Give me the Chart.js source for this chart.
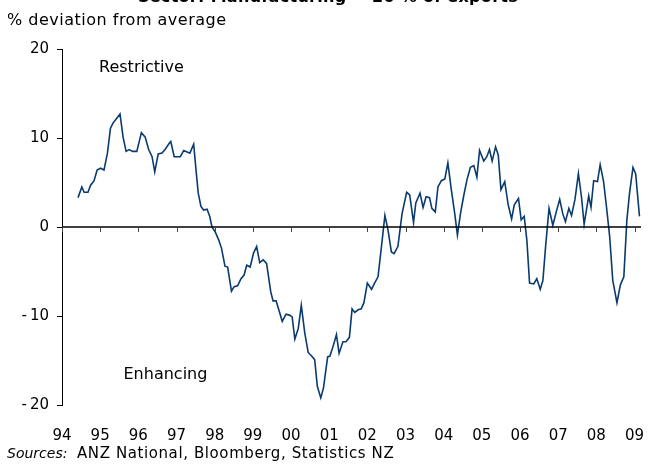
<!DOCTYPE html>
<html>
<head>
<meta charset="utf-8">
<script src="https://cdn.jsdelivr.net/npm/chart.js@4"></script>
<style>
  body { margin: 0; background: #fff; font-family: 'DejaVu Sans', sans-serif; }
  #wrap { position: relative; width: 648px; height: 465px; overflow: hidden; }
  canvas { position: absolute; left: 0; top: 0; }
  .txt { position: absolute; white-space: nowrap; color: #000; font-size: 16px; }
</style>
</head>
<body>
<div id="wrap">
  <canvas id="chart" width="648" height="465"></canvas>
  <div class="txt" style="left:0;width:656px;text-align:center;top:-13px;font-weight:bold;letter-spacing:0.3px;">Sector: Manufacturing ≈ 20 % of exports</div>
  <div class="txt" style="left:7px;top:10px;letter-spacing:0.5px;">% deviation from average</div>
  <div class="txt" style="left:7px;top:444px;font-size:15px;"><i style="font-size:14px;">Sources:</i>&nbsp;&nbsp;<span style="letter-spacing:0.6px;">ANZ National, Bloomberg, Statistics NZ</span></div>
</div>
<script>
// Dates (decimal years) and % deviation from average
const dates = [
  1994.42, 1994.52, 1994.58, 1994.68, 1994.75, 1994.84, 1994.92, 1995.01, 1995.10, 1995.19,
  1995.27, 1995.34, 1995.43, 1995.52, 1995.60, 1995.68, 1995.76, 1995.85, 1995.96, 1996.08,
  1996.18, 1996.27, 1996.36, 1996.43, 1996.52, 1996.62, 1996.70, 1996.81, 1996.85, 1996.94,
  1997.10, 1997.19, 1997.35, 1997.45, 1997.52, 1997.57, 1997.64, 1997.71, 1997.80, 1997.87,
  1997.93, 1998.02, 1998.11, 1998.18, 1998.27, 1998.34, 1998.44, 1998.51, 1998.60, 1998.69,
  1998.77, 1998.84, 1998.93, 1999.02, 1999.10, 1999.18, 1999.27, 1999.36, 1999.47, 1999.53,
  1999.61, 1999.68, 1999.77, 1999.87, 1999.96, 2000.03, 2000.10, 2000.19, 2000.27, 2000.36,
  2000.45, 2000.54, 2000.62, 2000.69, 2000.78, 2000.85, 2000.96, 2001.02, 2001.11, 2001.19,
  2001.26, 2001.36, 2001.44, 2001.53, 2001.60, 2001.67, 2001.76, 2001.84, 2001.91, 2002.00,
  2002.11, 2002.19, 2002.28, 2002.37, 2002.46, 2002.54, 2002.63, 2002.70, 2002.80, 2002.91,
  2003.03, 2003.11, 2003.21, 2003.27, 2003.38, 2003.46, 2003.54, 2003.63, 2003.69, 2003.78,
  2003.85, 2003.94, 2004.03, 2004.11, 2004.20, 2004.29, 2004.36, 2004.44, 2004.52, 2004.61,
  2004.70, 2004.79, 2004.87, 2004.94, 2005.05, 2005.13, 2005.20, 2005.27, 2005.36, 2005.43,
  2005.50, 2005.60, 2005.69, 2005.78, 2005.85, 2005.96, 2006.03, 2006.11, 2006.18, 2006.25,
  2006.36, 2006.44, 2006.53, 2006.60, 2006.67, 2006.76, 2006.86, 2006.95, 2007.04, 2007.12,
  2007.19, 2007.28, 2007.35, 2007.44, 2007.53, 2007.61, 2007.68, 2007.80, 2007.86, 2007.93,
  2008.03, 2008.10, 2008.19, 2008.27, 2008.35, 2008.43, 2008.54, 2008.63, 2008.72, 2008.80,
  2008.87, 2008.96, 2009.03, 2009.13
];
const deviation = [
  3.3, 4.5, 3.9, 3.9, 4.7, 5.2, 6.4, 6.6, 6.4, 8.3,
  11.1, 11.7, 12.2, 12.7, 10.1, 8.5, 8.7, 8.5, 8.5, 10.6,
  10.1, 8.7, 7.9, 6.2, 8.2, 8.3, 8.7, 9.4, 9.6, 7.9,
  7.9, 8.6, 8.3, 9.3, 6.0, 3.8, 2.3, 1.9, 2.0, 1.2,
  0.0, -0.6, -1.5, -2.4, -4.4, -4.5, -7.2, -6.7, -6.6, -5.8,
  -5.4, -4.3, -4.5, -2.9, -2.2, -4.0, -3.7, -4.1, -7.3, -8.3,
  -8.3, -9.3, -10.6, -9.8, -9.9, -10.1, -12.6, -11.4, -8.8, -11.9,
  -14.1, -14.5, -14.9, -17.9, -19.2, -18.1, -14.6, -14.5, -13.3, -12.1,
  -14.2, -12.9, -12.9, -12.4, -9.2, -9.6, -9.3, -9.2, -8.5, -6.3,
  -7.0, -6.3, -5.6, -2.2, 1.3, -0.3, -2.8, -3.0, -2.2, 1.5,
  3.9, 3.6, 0.5, 2.7, 3.8, 2.2, 3.4, 3.3, 2.1, 1.7,
  4.5, 5.2, 5.4, 7.2, 4.2, 1.5, -0.9, 1.5, 3.4, 5.3,
  6.7, 6.9, 5.6, 8.6, 7.4, 7.9, 8.7, 7.4, 9.0, 8.1,
  4.2, 5.1, 2.5, 0.9, 2.5, 3.2, 0.8, 1.2, -1.5, -6.3,
  -6.4, -5.8, -7.0, -6.0, -2.2, 2.1, 0.2, 1.7, 3.1, 1.5,
  0.6, 2.1, 1.3, 3.1, 6.0, 3.4, 0.3, 3.5, 2.2, 5.2,
  5.1, 7.0, 5.1, 2.1, -1.1, -6.0, -8.5, -6.5, -5.6, 0.8,
  3.8, 6.7, 6.0, 1.2
];
const yearTicks = [1994, 1995, 1996, 1997, 1998, 1999, 2000, 2001, 2002, 2003, 2004, 2005, 2006, 2007, 2008, 2009];
const yTicks = [-20, -10, 0, 10, 20];
const notes = [
  { text: 'Restrictive', x: 1996.08, y: 17.9 },
  { text: 'Enhancing', x: 1996.71, y: -16.6 }
];

const FONT = "'DejaVu Sans', sans-serif";

// zero line with year ticks, plus the two text notes
const extras = {
  id: 'extras',
  afterDatasetsDraw(chart) {
    const { ctx, chartArea, scales: { x, y } } = chart;
    const y0 = y.getPixelForValue(0);
    ctx.save();
    ctx.strokeStyle = '#000';
    ctx.lineWidth = 1.5;
    ctx.beginPath();
    ctx.moveTo(chartArea.left, y0);
    ctx.lineTo(chartArea.right, y0);
    ctx.stroke();
    ctx.lineWidth = 1;
    ctx.strokeStyle = '#444';
    yearTicks.forEach(v => {
      const px = Math.round(x.getPixelForValue(v)) + 0.5;
      ctx.beginPath();
      ctx.moveTo(px, y0);
      ctx.lineTo(px, y0 + 5);
      ctx.stroke();
    });
    ctx.fillStyle = '#000';
    ctx.font = '16px ' + FONT;
    ctx.textAlign = 'center';
    ctx.textBaseline = 'middle';
    notes.forEach(n => ctx.fillText(n.text, x.getPixelForValue(n.x), y.getPixelForValue(n.y)));
    ctx.restore();
  }
};

new Chart(document.getElementById('chart'), {
  type: 'line',
  data: {
    datasets: [{
      data: dates.map((d, i) => ({ x: d, y: deviation[i] })),
      borderColor: '#0a3b70',
      borderWidth: 1.6,
      pointRadius: 0,
      tension: 0,
      fill: false
    }]
  },
  options: {
    responsive: false,
    devicePixelRatio: 1,
    animation: false,
    layout: { padding: { top: 49, right: 7, left: 0, bottom: 0 } },
    plugins: { legend: { display: false }, tooltip: { enabled: false } },
    scales: {
      x: {
        type: 'linear',
        min: 1994,
        max: 2009.17,
        grid: { display: false },
        border: { display: false },
        afterBuildTicks: s => { s.ticks = yearTicks.map(v => ({ value: v })); },
        afterFit: s => { s.height = 60; s.paddingLeft = 0; s.paddingRight = 0; },
        ticks: {
          padding: 14,
          maxRotation: 0,
          autoSkip: false,
          color: '#000',
          font: { family: FONT, size: 15 },
          callback: v => String(v).slice(2)
        }
      },
      y: {
        min: -20,
        max: 20,
        grid: { drawOnChartArea: false, color: '#000', tickLength: 5 },
        border: { color: '#000', width: 1 },
        afterBuildTicks: s => { s.ticks = yTicks.map(v => ({ value: v })); },
        afterFit: s => { s.width = 62; },
        ticks: {
          padding: 8,
          color: '#000',
          font: { family: FONT, size: 15 },
          callback: v => (v < 0 ? '-\u2009' + Math.abs(v) : String(v))
        }
      }
    }
  },
  plugins: [extras]
});
</script>
</body>
</html>
